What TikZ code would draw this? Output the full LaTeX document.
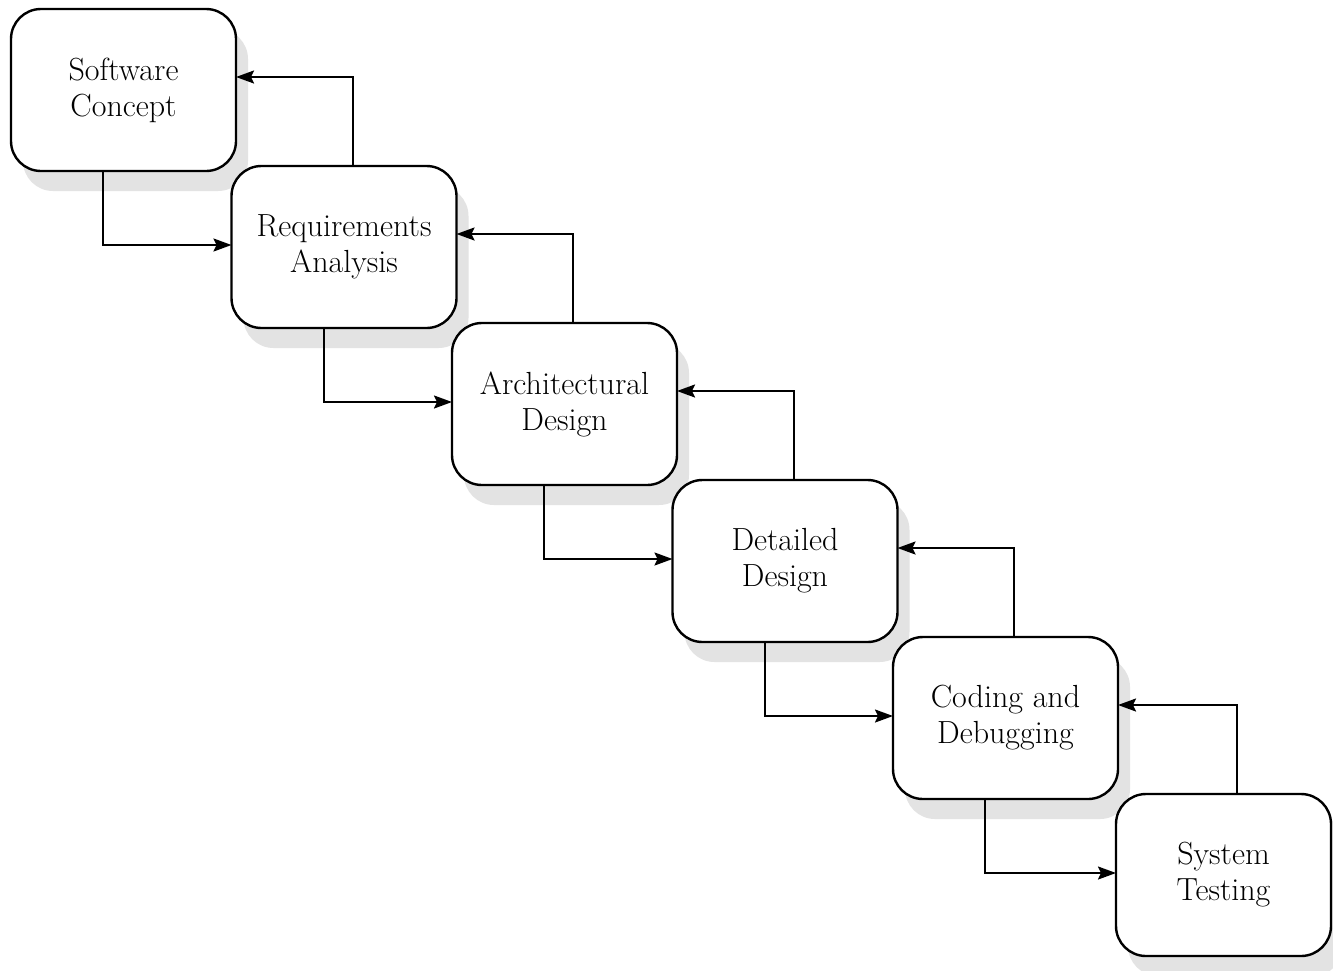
\documentclass[tikz,border=0pt]{standalone}
\usetikzlibrary{arrows.meta}
\pgfdeclarelayer{background}
\pgfsetlayers{background,main}
\begin{document}
\begin{tikzpicture}[x=1pt,y=-1pt,
  stagebox/.style={draw=black, line width=2.4pt, fill=white, rounded corners=30pt,
    minimum width=225pt, minimum height=162pt, anchor=north west, outer sep=0pt,
    align=center, font=\fontsize{32}{36}\selectfont},
  flow/.style={line width=2pt, -{Stealth[length=18pt,width=13pt,inset=3pt]}},
  shade/.style={fill=black!11, rounded corners=30pt}]
\useasboundingbox (0,0) rectangle (1333,970);
\node[stagebox] (b0) at (11,9) {Software\\Concept};
\node[stagebox] (b1) at (231.5,166) {Requirements\\Analysis};
\node[stagebox] (b2) at (452,323) {Architectural\\Design};
\node[stagebox] (b3) at (672.5,480) {Detailed\\Design};
\node[stagebox] (b4) at (893,637) {Coding and\\Debugging};
\node[stagebox, minimum width=215pt] (b5) at (1116,794) {System\\Testing};
\begin{pgfonlayer}{background}
\fill[white] (0,0) rectangle (1333,970);
\foreach \b in {b0,b1,b2,b3,b4,b5}{
  \fill[shade] ([shift={(12pt,-20pt)}]\b.north west) rectangle ([shift={(12pt,-20pt)}]\b.south east);
}
\end{pgfonlayer}
\foreach \a/\b in {b0/b1,b1/b2,b2/b3,b3/b4,b4/b5}{
  \draw[flow] ([xshift=92pt]\a.south west) |- ([yshift=-79pt]\b.north west);
  \draw[flow] ([xshift=121pt]\b.north west) |- ([yshift=-68pt]\a.north east);
}
\end{tikzpicture}
\end{document}
